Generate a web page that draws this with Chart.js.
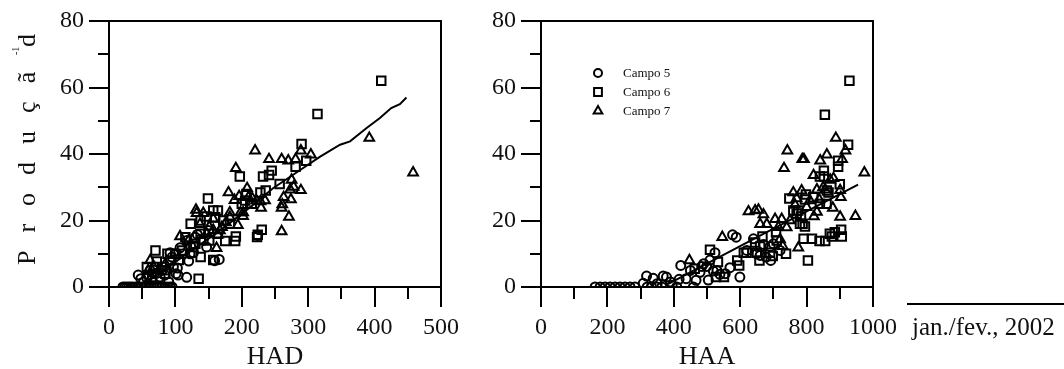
<!DOCTYPE html>
<html><head><meta charset="utf-8">
<script src="https://cdn.jsdelivr.net/npm/chart.js@4.4.0/dist/chart.umd.min.js"></script>
<style>
html,body{margin:0;padding:0;background:#fff;width:1064px;height:369px;overflow:hidden}
#c1{position:absolute;left:0;top:0}
#c2{position:absolute;left:480px;top:0}
</style></head><body>
<canvas id="c1" width="480" height="369"></canvas>
<canvas id="c2" width="584" height="369"></canvas>
<script>
// ---------- tick values / labels ----------
const yTicks = [0, 20, 40, 60, 80];
const yMinor = [10, 30, 50, 70];
const hadTicks = [0, 100, 200, 300, 400, 500];
const hadMinor = [50, 150, 250, 350, 450];
const haaTicks = [0, 200, 400, 600, 800, 1000];
const haaMinor = [100, 300, 500, 700, 900];
const seriesNames = ['Campo 5', 'Campo 6', 'Campo 7'];
const yTitle = 'Produçã';
const yTitleSup = '-1';
const yTitleEnd = 'd';
const noteText = 'jan./fev., 2002';

// ---------- HAD panel (left) ----------
const hadC5x = [21,24,27,30,33,36,40,44,48,52,56,60,64,68,72,76,80,84,88,92,95,
  44,48,52,57,60,64,68,72,77,80,84,87,90,92,97,101,103,104,107,112,117,117,120,123,127,133,138,142,147,159,166,95,100,122,130,150,70,62,224];
const hadC5y = [0,0,0,0,0,0,0,0,0,0,0,0,0,0,0,0,0,0,0,0,0,
  3.6,2.5,1.5,2.6,3.5,2,4,4.1,3,5,3.6,5.1,1.5,10.3,6,4,5.7,3.6,11.8,10,2.9,14,7.8,12.3,10.3,15.8,14.3,14,12,7.9,8.3,9,10,10,15,17,6,5,15.5];
const hadC6x = [410,314,290,297,281,245,241,232,197,257,236,228,149,200,207,157,164,147,191,190,175,230,224,223,115,70,135,157,105,100,92,88,138,138,123,164,151,72,57,138,127,80,85,65,110,172,182,205,215,130,160];
const hadC6y = [62,52,43,38,36.2,35,33.7,33.2,33.2,31,29,28.4,26.6,25,28,23,23,21.2,15.2,13.8,13.8,17.2,15.7,15,15,11,2.5,8.1,8.1,10,8,10,16,20,19,16,14,7.7,6,9,12,6,4,3,11,20,19,26,25,13,21];
const hadC7x = [458,392,220,241,260,270,281,304,289,191,275,273,289,278,263,274,261,260,271,260,228,229,208,180,196,216,222,202,198,202,194,182,189,131,132,142,137,151,157,164,162,107,62,167,176,182,157,147,67,59,75,85,120,170,210,235];
const hadC7y = [34.4,44.8,41,38.4,38.4,38,38.4,39.8,41,35.7,32.2,29.3,29.1,30.1,27,26.3,24.8,23.8,21.1,16.7,25.7,23.8,29.7,28.4,27.3,26.6,26,21.3,22.4,22.4,18.6,22.4,26.1,23.2,22.2,22.2,18.9,18.1,17.1,15.7,11.7,15.2,8,17,19.4,21,20.5,16,6,5,5,7,14,18,27,26];
const hadFitX = [50,70,97,130,162,190,217,247,288,318,348,363,388,408,425,438,448];
const hadFitY = [1,3.5,7.1,11.8,16.2,20.5,24.7,29.7,35.2,39.2,42.8,43.8,47.8,50.8,53.8,55,57];

// ---------- HAA panel (right) ----------
const haaC5x = [163,178,193,208,223,238,253,268,283,320,333,349,364,409,459,
  318,338,368,378,308,421,437,416,467,479,484,499,504,509,524,519,539,569,599,577,588,640,670,692,678,660,690,350,390,395,450,490,530,555,620,650,700,720];
const haaC5y = [0,0,0,0,0,0,0,0,0,0,0,0,0,0,0,
  3.3,2.6,3.3,3,1.1,6.5,2.5,2.3,2,4.4,6.2,6.2,2.1,8.1,10.3,4.8,3.8,5.8,3,15.7,15,14.5,12.8,8,9,9.5,12.2,1,1.5,0.5,5,7,5,4,11,10,13,11];
const haaC6x = [929,855,925,895,895,852,840,852,900,861,866,748,798,795,760,775,783,788,795,904,906,876,856,839,816,791,804,738,708,710,667,660,645,650,658,690,611,591,597,533,551,509,527,463,619,698,870,885,840,860,780,770,820];
const haaC6y = [62,51.8,42.8,38,36.2,35,33.2,33.2,30.9,29,28.4,26.6,27.8,26.3,23,23,21.2,19,18.2,17.2,15.2,15.2,13.8,13.8,14.5,14.5,8,10,16.5,14,15.2,12.2,13.4,10.3,8,10.3,10.3,8,6.5,7.5,3,11.2,3,5.5,10.3,9.3,16,16.5,25,25,19,22,27];
const haaC7x = [974,888,742,787,792,861,841,907,917,732,871,821,831,901,903,856,838,879,822,901,947,760,785,770,625,655,670,660,680,705,725,740,720,728,775,546,447,765,881,831,645,800,810,850,750,715];
const haaC7y = [34.4,44.8,41,38.4,38.4,39.8,38,38.4,41,35.7,32.2,33.6,29.3,29.1,27,29.3,26.3,23.8,21.2,21.1,21.3,28.4,29,26.6,22.7,23.2,21.8,18.9,18.9,20.4,20.4,17.9,14.3,12.3,11.8,15,8,24.7,32.7,22.6,23,24,26,30,20,18];
const haaFitX = [385,670,955];
const haaFitY = [1,16,30.8];

// ---------- helpers ----------
const zip = (xs, ys) => xs.map((v, i) => ({x: v, y: ys[i]}));
const FONT = '"Liberation Serif", "Times New Roman", serif';
Chart.defaults.font.family = FONT;
Chart.defaults.color = '#111';

const pointStyles = ['circle', 'rect', 'triangle'];
const pointRadii = [4.5, 6, 5.6];

function markerSet(name, idx, xs, ys) {
  return {
    label: name, data: zip(xs, ys),
    pointStyle: pointStyles[idx], pointRadius: pointRadii[idx],
    borderColor: '#000', backgroundColor: 'rgba(0,0,0,0)', borderWidth: 2,
    showLine: false
  };
}
function fitSet(xs, ys) {
  return {
    label: 'fit', data: zip(xs, ys), showLine: true, pointRadius: 0,
    borderColor: '#000', borderWidth: 2, backgroundColor: 'rgba(0,0,0,0)', tension: 0, fill: false
  };
}

const framePlugin = {
  id: 'frame',
  afterDraw(chart, args, opts) {
    const {ctx, chartArea: a, scales: {x, y}} = chart;
    ctx.save();
    ctx.strokeStyle = '#000'; ctx.lineWidth = 2; ctx.lineCap = 'butt';
    ctx.beginPath();
    ctx.moveTo(a.left - 1, a.top); ctx.lineTo(a.right, a.top); ctx.lineTo(a.right, a.bottom);
    opts.xMinor.forEach(v => { const px = Math.round(x.getPixelForValue(v)); ctx.moveTo(px, a.bottom); ctx.lineTo(px, a.bottom + 12); });
    yMinor.forEach(v => { const py = Math.round(y.getPixelForValue(v)); ctx.moveTo(a.left - 11, py); ctx.lineTo(a.left, py); });
    ctx.stroke();
    if (opts.yTitle) {
      ctx.fillStyle = '#111';
      ctx.save();
      ctx.translate(35, 265); ctx.rotate(-Math.PI / 2);
      ctx.font = '26px ' + FONT; ctx.textBaseline = 'alphabetic'; ctx.textAlign = 'left';
      if ('letterSpacing' in ctx) { ctx.letterSpacing = '18px'; ctx.fillText(yTitle, 0, 0); }
      else { let u = 0; for (const ch of yTitle) { ctx.fillText(ch, u, 0); u += ctx.measureText(ch).width + 18; } }
      if ('letterSpacing' in ctx) ctx.letterSpacing = '0px';
      ctx.font = '10px ' + FONT; ctx.fillText(yTitleSup, 210, -16);
      ctx.font = '26px ' + FONT; ctx.fillText(yTitleEnd, 218, 0);
      ctx.restore();
    }
    if (opts.legend) {
      const lx = a.left + 57, ly = [73, 92, 111];
      ctx.lineWidth = 2;
      ctx.fillStyle = '#111';
      ly.forEach((yy, i) => {
        ctx.beginPath();
        if (i === 0) ctx.arc(lx, yy, 4, 0, Math.PI * 2);
        else if (i === 1) ctx.rect(lx - 3.9, yy - 3.9, 7.8, 7.8);
        else { ctx.moveTo(lx, yy - 5); ctx.lineTo(lx + 4.33, yy + 2.5); ctx.lineTo(lx - 4.33, yy + 2.5); ctx.closePath(); }
        ctx.stroke();
        ctx.font = '13px ' + FONT; ctx.textBaseline = 'middle'; ctx.textAlign = 'left';
        ctx.fillText(seriesNames[i], lx + 25, yy + 1);
      });
    }
    if (opts.note) {
      ctx.lineWidth = 2;
      ctx.beginPath(); ctx.moveTo(427, 304); ctx.lineTo(584, 304); ctx.stroke();
      ctx.font = '25px ' + FONT; ctx.textBaseline = 'alphabetic'; ctx.textAlign = 'left';
      ctx.fillStyle = '#111';
      ctx.fillText(noteText, 432, 335);
    }
    ctx.restore();
  }
};

function makeOptions(xMin, xMax, xTicks, xTitle, yWidth, padRight, extra) {
  return {
    responsive: false, animation: false, devicePixelRatio: 1, events: [],
    layout: {padding: {top: 21, right: padRight, bottom: 0, left: 0}},
    plugins: {legend: {display: false}, tooltip: {enabled: false}, frame: extra},
    scales: {
      x: {
        type: 'linear', min: xMin, max: xMax,
        afterBuildTicks: s => { s.ticks = xTicks.map(v => ({value: v})); },
        afterFit: s => { s.height = 82; },
        ticks: {font: {size: 24}, color: '#111', padding: 6, maxRotation: 0, autoSkip: false, callback: v => String(v)},
        grid: {drawOnChartArea: false, tickLength: 20, color: '#000', lineWidth: 2},
        border: {display: true, color: '#000', width: 2},
        title: {display: true, text: xTitle, font: {size: 26, lineHeight: 0.9}, color: '#111', padding: 0}
      },
      y: {
        type: 'linear', min: 0, max: 80,
        afterBuildTicks: s => { s.ticks = yTicks.map(v => ({value: v})); },
        afterFit: s => { s.width = yWidth; },
        ticks: {font: {size: 24}, color: '#111', padding: 5, callback: v => String(v)},
        grid: {drawOnChartArea: false, tickLength: 20, color: '#000', lineWidth: 2},
        border: {display: true, color: '#000', width: 2}
      }
    }
  };
}

new Chart(document.getElementById('c1'), {
  type: 'scatter',
  data: {datasets: [
    markerSet(seriesNames[0], 0, hadC5x, hadC5y),
    markerSet(seriesNames[1], 1, hadC6x, hadC6y),
    markerSet(seriesNames[2], 2, hadC7x, hadC7y),
    fitSet(hadFitX, hadFitY)
  ]},
  options: makeOptions(0, 500, hadTicks, 'HAD', 109, 39, {xMinor: hadMinor, yTitle: true}),
  plugins: [framePlugin]
});

new Chart(document.getElementById('c2'), {
  type: 'scatter',
  data: {datasets: [
    markerSet(seriesNames[0], 0, haaC5x, haaC5y),
    markerSet(seriesNames[1], 1, haaC6x, haaC6y),
    markerSet(seriesNames[2], 2, haaC7x, haaC7y),
    fitSet(haaFitX, haaFitY)
  ]},
  options: makeOptions(0, 1000, haaTicks, 'HAA', 61, 191, {xMinor: haaMinor, legend: true, note: true}),
  plugins: [framePlugin]
});
</script>
</body></html>
